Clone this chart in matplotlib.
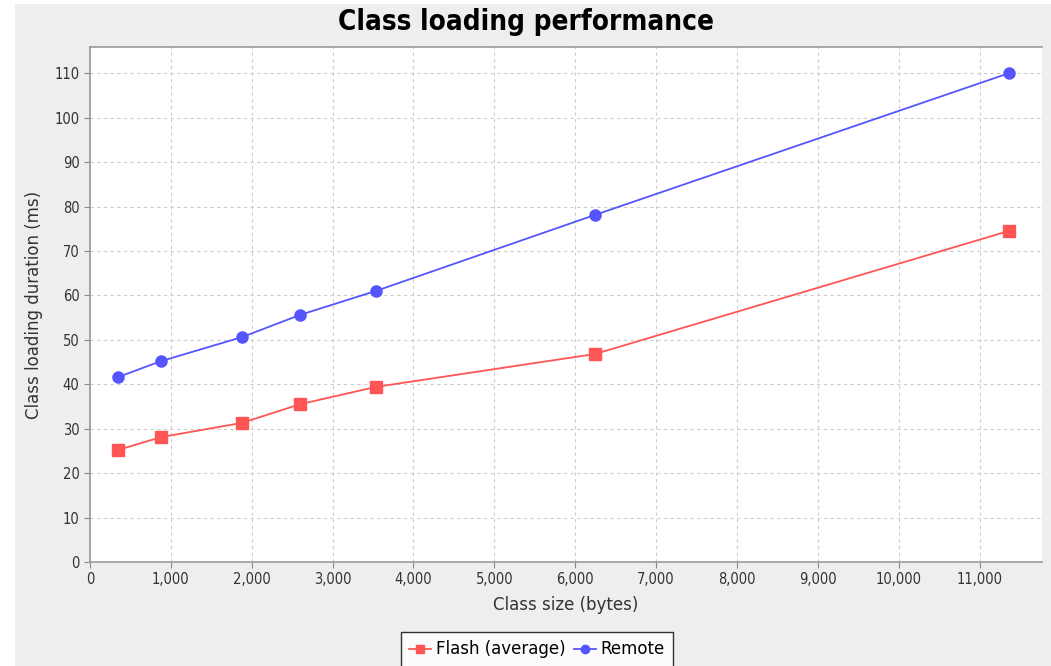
import matplotlib
matplotlib.use("Agg")
import matplotlib.pyplot as plt
from matplotlib.patches import Rectangle
from matplotlib.ticker import FuncFormatter, MultipleLocator

# Class sizes (bytes) and loading durations (ms)
class_size = [346, 878, 1879, 2596, 3535, 6242, 11360]
flash_avg = [25.2, 28.1, 31.3, 35.5, 39.4, 46.8, 74.5]
remote = [41.6, 45.2, 50.6, 55.6, 61.0, 78.1, 110.0]

plt.rcParams["font.family"] = ["DejaVu Sans"]

fig = plt.figure(figsize=(10.51, 6.66), dpi=100)
fig.patch.set_facecolor("white")
# light grey chart panel, offset slightly from the top-left corner
fig.patches.append(Rectangle((15 / 1051, 0), 1, 1 - 4 / 666, transform=fig.transFigure,
                             facecolor="#eeeeee", edgecolor="none", zorder=-10))

ax = fig.add_axes([0.0856, 0.1562, 0.9058, 0.7732])
ax.set_facecolor("white")

ax.plot(class_size, flash_avg, color="#ff5555", marker="s", markersize=8,
        linewidth=1.3, label="Flash (average)")
ax.plot(class_size, remote, color="#5555ff", marker="o", markersize=8,
        linewidth=1.3, label="Remote")

ax.set_xlim(0, 11770)
ax.set_ylim(0, 115.9)
ax.xaxis.set_major_locator(MultipleLocator(1000))
ax.yaxis.set_major_locator(MultipleLocator(10))
ax.xaxis.set_major_formatter(FuncFormatter(lambda v, p: f"{int(v):,}"))

ax.grid(True, color="#cccccc", linestyle=(0, (3, 3)), linewidth=0.8)
ax.set_axisbelow(True)

ax.spines["right"].set_visible(False)
for side in ["left", "bottom", "top"]:
    ax.spines[side].set_color("#999999")
    ax.spines[side].set_linewidth(1.2)

ax.tick_params(direction="out", length=4, color="#888888", labelsize=10.5,
               labelcolor="#333333")
for lab in ax.get_xticklabels() + ax.get_yticklabels():
    lab.set_fontstretch("condensed")

ax.set_xlabel("Class size (bytes)", fontsize=12, color="#333333", labelpad=6)
ax.set_ylabel("Class loading duration (ms)", fontsize=12, color="#333333", labelpad=8)

fig.text(0.5, 1 - 22 / 666, "Class loading performance", fontsize=20,
         fontweight="bold", fontstretch="condensed", ha="center", va="center")

leg = fig.legend(*ax.get_legend_handles_labels(), loc="upper center",
                 bbox_to_anchor=(537 / 1051, 1 - 632 / 666), bbox_transform=fig.transFigure,
                 ncol=2, frameon=True, fancybox=False, edgecolor="black", fontsize=12,
                 handlelength=1.3, handletextpad=0.3, columnspacing=0.5,
                 borderpad=0.5, borderaxespad=0, markerscale=0.75)
leg.get_frame().set_linewidth(1.0)

fig.savefig("out.png", dpi=100, facecolor=fig.get_facecolor())
